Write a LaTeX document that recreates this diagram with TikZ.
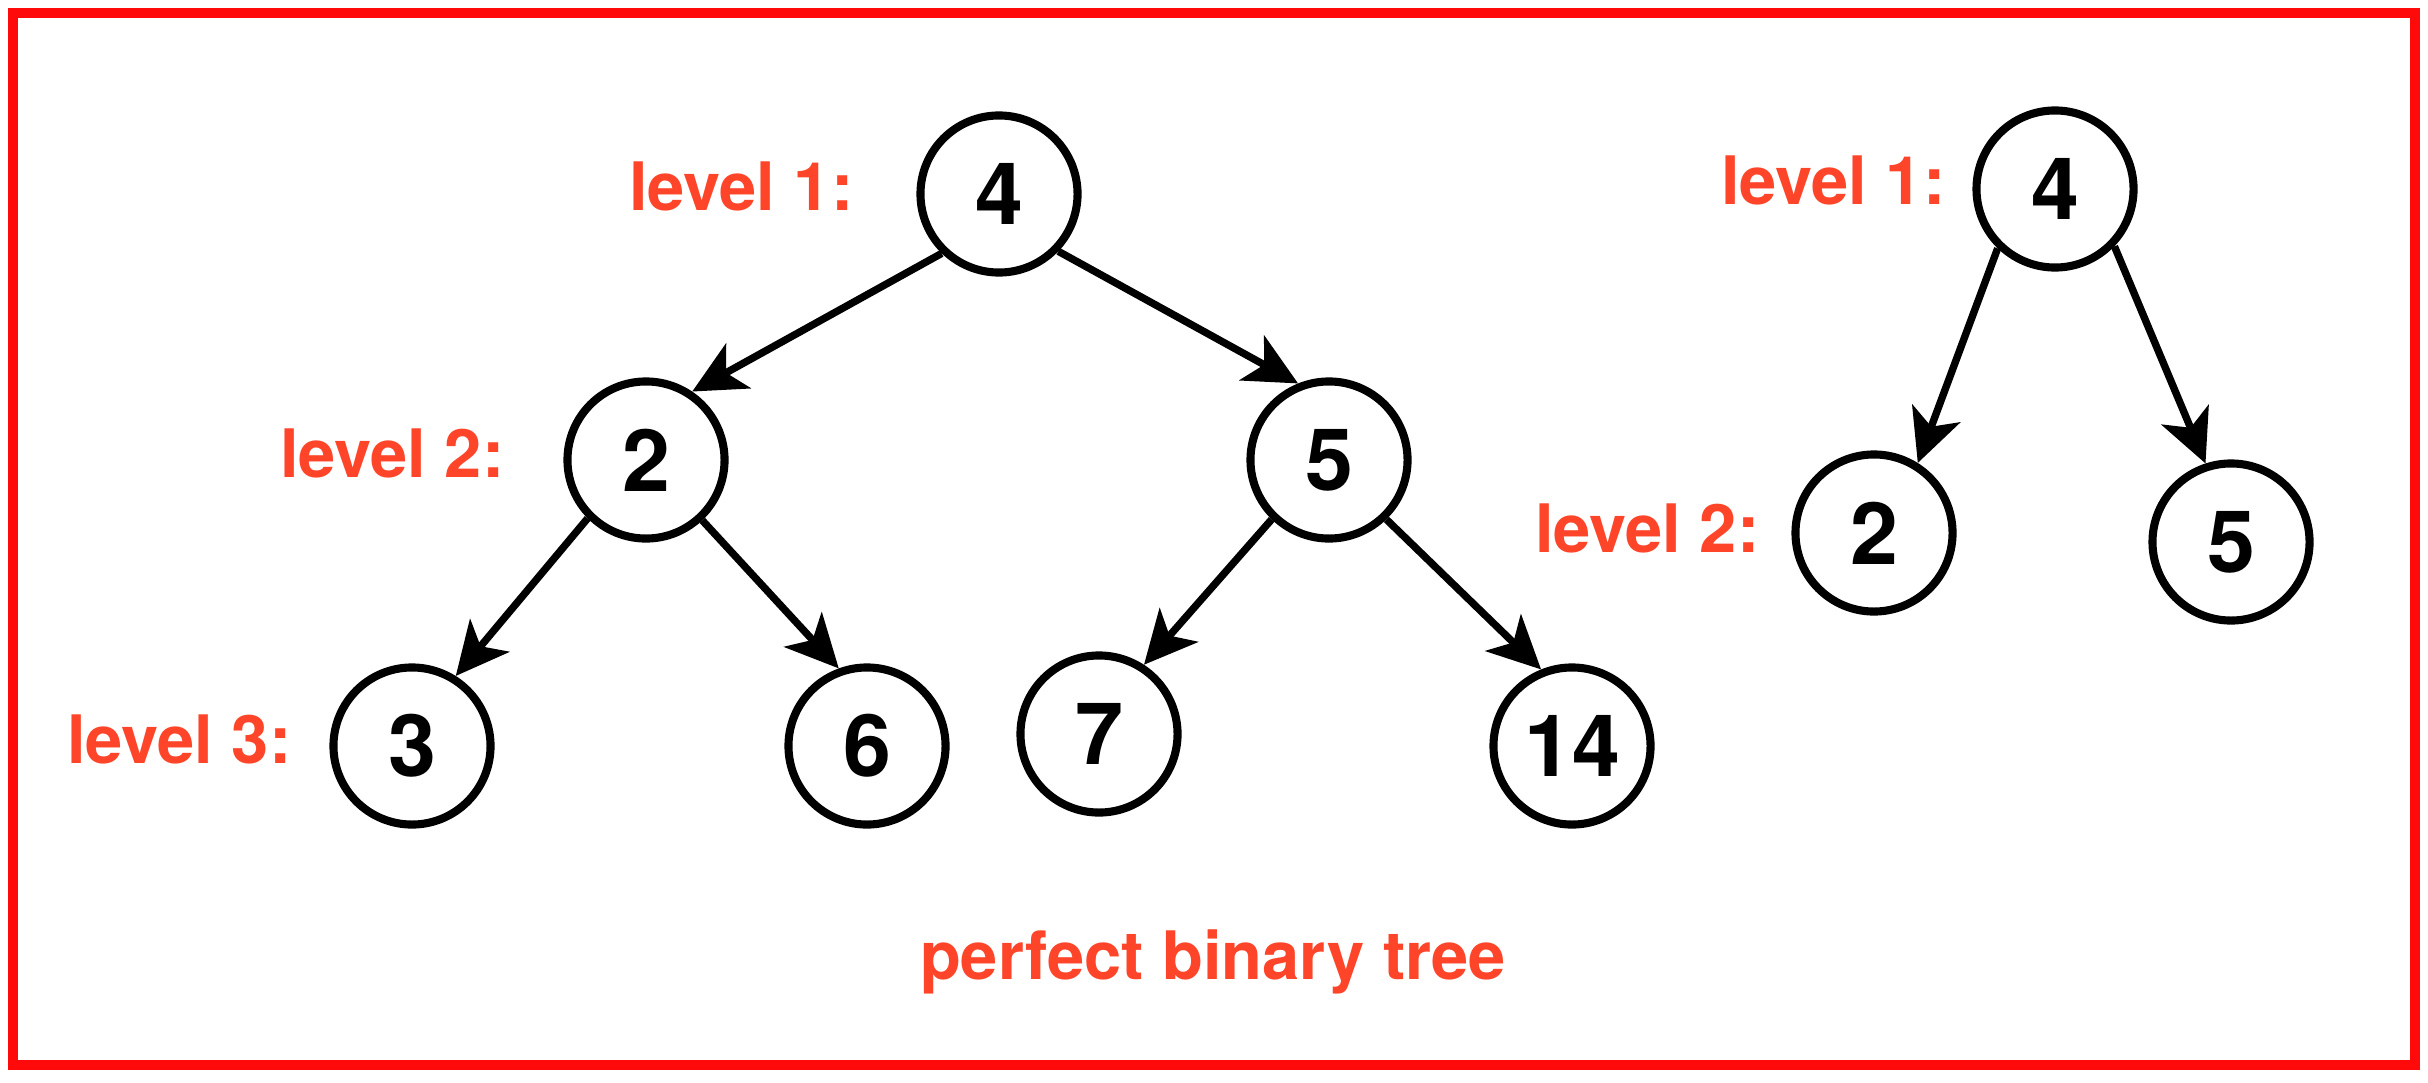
\documentclass[tikz,border=0pt]{standalone}
\usepackage{fontspec}
\setmainfont{TeX Gyre Heros}
\usetikzlibrary{arrows.meta}
\definecolor{labelred}{RGB}{255,69,41}
\definecolor{framered}{RGB}{255,10,10}
\begin{document}
\begin{tikzpicture}[x=0.01cm,y=-0.01cm,
  treenode/.style={circle,draw=black,line width=2.3pt,minimum size=1.57cm,
    inner sep=0pt,font=\fontsize{24.5}{28}\selectfont\bfseries},
  levellabel/.style={anchor=base east,inner sep=0pt,text=labelred,
    font=\fontsize{19}{22}\selectfont\bfseries},
  link/.style={line width=2.1pt,
    -{Stealth[length=15pt,width=14.5pt,inset=4pt]}}
]
% canvas and frame
\useasboundingbox (0,0) rectangle (2428,1082);
\fill[white] (0,0) rectangle (2428,1082);
\draw[framered,line width=2.845pt] (13,13) rectangle (2415,1065);

% perfect binary tree
\node[treenode] (a4)  at (999,194)  {4};
\node[treenode] (a2)  at (646,460)  {2};
\node[treenode] (a5)  at (1329,460) {5};
\node[treenode] (a3)  at (412,746)  {3};
\node[treenode] (a6)  at (867,746)  {6};
\node[treenode] (a7)  at (1099,734) {7};
\node[treenode] (a14) at (1572,746) {14};

\draw[link] (a4.226) -- (a2.56);
\draw[link] (a4.316) -- (a5.112);
\draw[link] (a2.225) -- (a3.58);
\draw[link] (a2.313) -- (a6.110);
\draw[link] (a5.226) -- (a7.57);
\draw[link] (a5.314) -- (a14.112);

% small tree
\node[treenode] (b4) at (2055,189) {4};
\node[treenode] (b2) at (1874,533) {2};
\node[treenode] (b5) at (2231,542) {5};

\draw[link] (b4.226) -- (b2.58);
\draw[link] (b4.316) -- (b5.108);

% level labels
\node[levellabel] (l1a) at (854,211)  {level 1:};
\node[levellabel] (l2a) at (505,477)  {level 2:};
\node[levellabel] (l3a) at (292,763)  {level 3:};
\node[levellabel] (l1b) at (1946,204) {level 1:};
\node[levellabel] (l2b) at (1760,552) {level 2:};

\node[levellabel,anchor=base] (cap) at (1213,979) {perfect binary tree};
\end{tikzpicture}
\end{document}
